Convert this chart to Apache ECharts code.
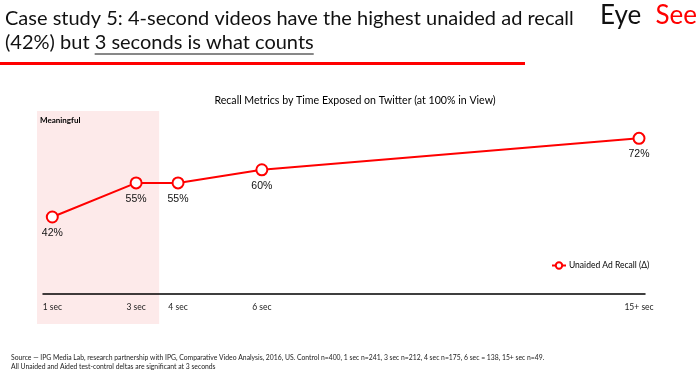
<!DOCTYPE html>
<html><head><meta charset="utf-8">
<script src="https://cdn.jsdelivr.net/npm/echarts@6/dist/echarts.min.js"></script>
<style>html,body{margin:0;padding:0;background:#fff}#c{width:700px;height:374px}</style>
</head><body><div id="c"></div>
<script>
const seconds = [1, 3, 4, 6, 15];
const tickLabels = ['1 sec', '3 sec', '4 sec', '6 sec', '15+ sec'];
const recall = [42, 55, 55, 60, 72];
const seriesName = 'Unaided Ad Recall (\u0394)';
const shadeRange = [0.635, 3.55];

const RED = '#ff0000';
const F = 'Lato, "Open Sans", sans-serif';
const mctx = document.createElement('canvas').getContext('2d');
function tw(t, font) { mctx.font = font; return mctx.measureText(t).width; }

const chart = echarts.init(document.getElementById('c'), null, {renderer: 'canvas'});
const option = {
  animation: false,
  backgroundColor: '#fff',
  grid: {left: 43, right: 55, top: 110.5, bottom: 80.3, containLabel: false},
  title: {
    text: 'Recall Metrics by Time Exposed on Twitter (at 100% in View)',
    left: 350, top: 90, textAlign: 'center',
    textStyle: {fontFamily: F, fontSize: 10.6, fontWeight: 'normal', color: '#000'}
  },
  legend: {
    data: [seriesName], left: 546, top: 256, itemWidth: 14, itemHeight: 8, itemGap: 4,
    textStyle: {fontFamily: F, fontSize: 8.5, color: '#000', padding: [0,0,0,-2]}
  },
  xAxis: {
    type: 'value', min: 0.778, max: 15.143,
    splitLine: {show: false},
    axisLine: {show: true, lineStyle: {color: '#000', width: 1.5}},
    axisTick: {show: false},
    axisLabel: {
      customValues: seconds, showMinLabel: true, showMaxLabel: true,
      formatter: v => tickLabels[seconds.indexOf(v)],
      margin: 9, fontFamily: F, fontSize: 8.5, color: '#222'
    }
  },
  yAxis: {
    type: 'value', min: 12.77, max: 82.6, show: false, splitLine: {show: false}
  },
  series: [{
    name: seriesName, type: 'line',
    data: seconds.map((s, i) => [s, recall[i]]),
    symbol: 'circle', symbolSize: 11, showAllSymbol: true,
    lineStyle: {color: RED, width: 2},
    itemStyle: {color: '#fff', borderColor: RED, borderWidth: 2},
    label: {show: true, position: 'bottom', distance: 4, formatter: p => p.value[1] + '%',
      fontFamily: '"Liberation Sans", Arial, sans-serif', fontSize: 10.5, color: '#111'},
    emphasis: {disabled: true},
    z: 5
  }]
};
chart.setOption(option);

const x0 = chart.convertToPixel({xAxisIndex: 0}, shadeRange[0]);
const x1 = chart.convertToPixel({xAxisIndex: 0}, shadeRange[1]);
const HF = '20px ' + F;
const pre = '(42%) but ';
const ul = '3 seconds is what counts';
const ulx = 5 + tw(pre, HF);
const ulw = tw(ul, HF);
const LF = '26px ' + F;
chart.setOption({
  graphic: [
    {type: 'rect', shape: {x: x0, y: 111, width: x1 - x0, height: 213}, style: {fill: '#fdeaea'}, z: -10, silent: true},
    {type: 'text', left: 40, top: 116, style: {text: 'Meaningful', font: 'bold 8px ' + F, fill: '#000'}},
    {type: 'text', left: 5, top: 9, style: {text: 'Case study 5: 4-second videos have the highest unaided ad recall', font: HF, fill: '#111'}},
    {type: 'text', left: 5, top: 33, style: {text: pre, font: HF, fill: '#111'}},
    {type: 'text', left: ulx, top: 33, style: {text: ul, font: HF, fill: '#111'}},
    {type: 'line', shape: {x1: ulx, y1: 54, x2: ulx + ulw, y2: 54}, style: {stroke: '#111', lineWidth: 1}},
    {type: 'rect', shape: {x: 0, y: 62, width: 525, height: 3}, style: {fill: RED}},
    {type: 'text', x: 600, y: 3, style: {text: 'Eye', font: LF, fill: '#111', align: 'left', verticalAlign: 'top'}},
    {type: 'text', x: 697, y: 3, style: {text: 'See', font: LF, fill: RED, align: 'right', verticalAlign: 'top'}},
    {type: 'text', left: 11, top: 354, style: {text: 'Source \u2014 IPG Media Lab, research partnership with IPG, Comparative Video Analysis, 2016, US. Control n=400, 1 sec n=241, 3 sec n=212, 4 sec n=175, 6 sec = 138, 15+ sec n=49.', font: '6.8px ' + F, fill: '#222'}},
    {type: 'text', left: 11, top: 363, style: {text: 'All Unaided and Aided test-control deltas are significant at 3 seconds', font: '6.8px ' + F, fill: '#222'}}
  ]
});
</script></body></html>
